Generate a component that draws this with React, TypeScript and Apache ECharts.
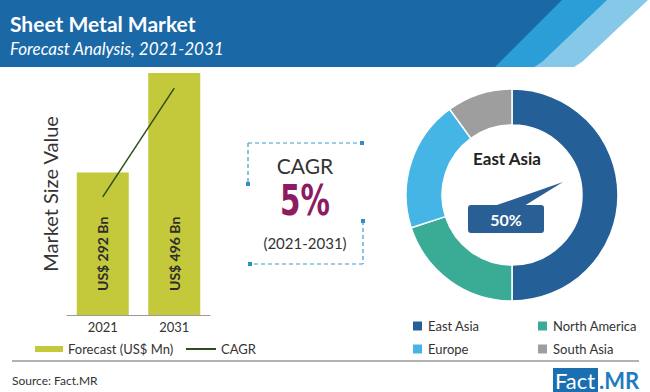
import React, { useEffect, useRef } from "react";
import * as echarts from "echarts";

const years = ["2021", "2031"];
const marketValues = [292, 496];
const cagrLine = [242, 465];
const regions = ["East Asia", "North America", "Europe", "South Asia"];
const regionShares = [50, 20, 20, 10];

const regionPalette = ["#245f97", "#3aac95", "#45b5e6", "#9e9e9e"];
const FONT = "Lato, 'Open Sans', sans-serif";

export default function App() {
  const ref = useRef<HTMLDivElement>(null);
  useEffect(() => {
    if (!ref.current) return;
    const chart = echarts.init(ref.current, undefined, { renderer: "svg" });
    const highlight = regions[0];
    const highlightShare = regionShares[0];

    const dashed = { stroke: "#3a9cc6", lineWidth: 1.2, lineDash: [4, 3] };
    const sq = (x: number, y: number) => ({
      type: "rect",
      shape: { x: x - 2, y: y - 2, width: 4, height: 4 },
      style: { fill: "#2f8fbf" },
    });

    const legendText = { fontSize: 13, color: "#333", fontFamily: FONT, lineHeight: 14 };
    const regionLegends = regions.map((r, i) => ({
      data: [r],
      left: i % 2 === 0 ? 406 : 531,
      top: i < 2 ? 314 : 337,
      icon: "rect",
      itemWidth: 11,
      itemHeight: 11,
      textStyle: legendText,
      selectedMode: false,
    }));

    chart.setOption({
      animation: false,
      textStyle: { fontFamily: FONT },
      grid: { left: 67, right: 440, top: 73, bottom: 77 },
      xAxis: {
        type: "category",
        data: years,
        axisLine: { lineStyle: { color: "#999", width: 1 } },
        axisTick: { show: false },
        axisLabel: { fontSize: 13, color: "#333", margin: 5, fontFamily: FONT },
      },
      yAxis: { type: "value", min: 0, max: 496, show: false, splitLine: { show: false } },
      legend: [
        {
          data: ["Forecast (US$ Mn)"],
          left: 30,
          top: 337,
          icon: "rect",
          itemWidth: 28,
          itemHeight: 6,
          textStyle: legendText,
          selectedMode: false,
        },
        {
          data: ["CAGR"],
          left: 181,
          top: 337,
          icon: "rect",
          itemWidth: 30,
          itemHeight: 2,
          textStyle: legendText,
          selectedMode: false,
        },
        ...regionLegends,
      ],
      series: [
        {
          name: "Forecast (US$ Mn)",
          type: "bar",
          data: marketValues,
          barWidth: 52,
          itemStyle: { color: "#c4c83b" },
          label: {
            show: true,
            position: "insideBottom",
            distance: 24,
            rotate: 90,
            align: "left",
            verticalAlign: "middle",
            formatter: (p: any) => `US$ ${p.value} Bn`,
            fontSize: 14,
            fontWeight: "bold",
            color: "#2d2d2d",
            fontFamily: FONT,
          },
        },
        {
          name: "CAGR",
          type: "line",
          data: cagrLine,
          symbol: "none",
          lineStyle: { color: "#2e4d1c", width: 1.5 },
          itemStyle: { color: "#2e4d1c" },
          z: 5,
        },
        {
          name: "Region",
          type: "pie",
          center: [512, 195],
          radius: [70, 106],
          startAngle: 90,
          clockwise: true,
          label: { show: false },
          labelLine: { show: false },
          itemStyle: { borderColor: "#fff", borderWidth: 1.5 },
          data: regions.map((r, i) => ({
            name: r,
            value: regionShares[i],
            itemStyle: { color: regionPalette[i] },
          })),
        },
      ],
      graphic: [
        // header
        { type: "polygon", shape: { points: [[0, 0], [648, 0], [582, 62], [574, 67], [0, 67]] }, style: { fill: "#86c8e8" } },
        { type: "polygon", shape: { points: [[0, 0], [607, 0], [542, 62], [534, 67], [0, 67]] }, style: { fill: "#2b9ed7" } },
        { type: "polygon", shape: { points: [[0, 0], [562, 0], [495, 67], [0, 67]] }, style: { fill: "#1b68a6" } },
        {
          type: "text",
          x: 10,
          y: 23,
          style: { text: "Sheet Metal Market", fill: "#fff", fontSize: 21, fontWeight: "bold", fontFamily: FONT, align: "left", verticalAlign: "middle" },
        },
        {
          type: "text",
          x: 10,
          y: 48,
          style: { text: "Forecast Analysis, 2021-2031", fill: "#fff", fontSize: 17, fontStyle: "italic", fontFamily: FONT, align: "left", verticalAlign: "middle" },
        },
        // y axis name
        {
          type: "text",
          x: 50,
          y: 194,
          rotation: Math.PI / 2,
          style: { text: "Market Size Value", fill: "#333", fontSize: 20, fontFamily: FONT, align: "center", verticalAlign: "middle" },
        },
        // CAGR box
        { type: "line", shape: { x1: 248, y1: 143, x2: 362, y2: 143 }, style: dashed },
        { type: "line", shape: { x1: 248, y1: 143, x2: 248, y2: 184 }, style: dashed },
        { type: "line", shape: { x1: 363, y1: 221, x2: 363, y2: 264 }, style: dashed },
        { type: "line", shape: { x1: 363, y1: 264, x2: 250, y2: 264 }, style: dashed },
        sq(362, 143),
        sq(248, 184),
        sq(363, 221),
        sq(250, 264),
        {
          type: "text",
          x: 305,
          y: 165,
          style: { text: "CAGR", fill: "#333", fontSize: 21, fontFamily: FONT, align: "center", verticalAlign: "middle" },
        },
        {
          type: "text",
          x: 305,
          y: 201,
          scaleX: 0.7,
          style: { text: "5%", fill: "#8e1b62", fontSize: 42, fontWeight: "bold", fontFamily: "'DejaVu Sans', sans-serif", align: "center", verticalAlign: "middle" },
        },
        {
          type: "text",
          x: 305,
          y: 243,
          style: { text: "(2021-2031)", fill: "#333", fontSize: 15, fontFamily: FONT, align: "center", verticalAlign: "middle" },
        },
        // donut center
        {
          type: "text",
          x: 507,
          y: 158,
          style: { text: highlight, fill: "#222", fontSize: 17, fontWeight: "bold", fontFamily: FONT, align: "center", verticalAlign: "middle" },
        },
        { type: "polygon", shape: { points: [[494, 206], [563, 182], [524, 206]] }, style: { fill: "#2a5f96" } },
        { type: "rect", shape: { x: 468, y: 205, width: 76, height: 28, r: 3 }, style: { fill: "#2a5f96" } },
        {
          type: "text",
          x: 506,
          y: 219,
          style: { text: `${highlightShare}%`, fill: "#fff", fontSize: 16, fontWeight: "bold", fontFamily: FONT, align: "center", verticalAlign: "middle" },
        },
        // footer
        { type: "line", shape: { x1: 12, y1: 361, x2: 639, y2: 361 }, style: { stroke: "#666", lineWidth: 1 } },
        {
          type: "text",
          x: 12,
          y: 380,
          style: { text: "Source: Fact.MR", fill: "#333", fontSize: 12, fontFamily: FONT, align: "left", verticalAlign: "middle" },
        },
        { type: "rect", shape: { x: 553, y: 368, width: 45, height: 24 }, style: { fill: "#1b6fb0" } },
        {
          type: "text",
          x: 575,
          y: 380,
          style: { text: "Fact", fill: "#fff", fontSize: 22, fontFamily: FONT, align: "center", verticalAlign: "middle" },
        },
        {
          type: "text",
          x: 599,
          y: 380,
          style: { text: ".MR", fill: "#1f7cc0", fontSize: 22, fontWeight: "bold", fontFamily: FONT, align: "left", verticalAlign: "middle" },
        },
      ],
    });
    return () => chart.dispose();
  }, []);
  return (
    <div
      ref={ref}
      style={{ position: "fixed", left: 0, top: 0, width: 650, height: 392, background: "#fff" }}
    />
  );
}
